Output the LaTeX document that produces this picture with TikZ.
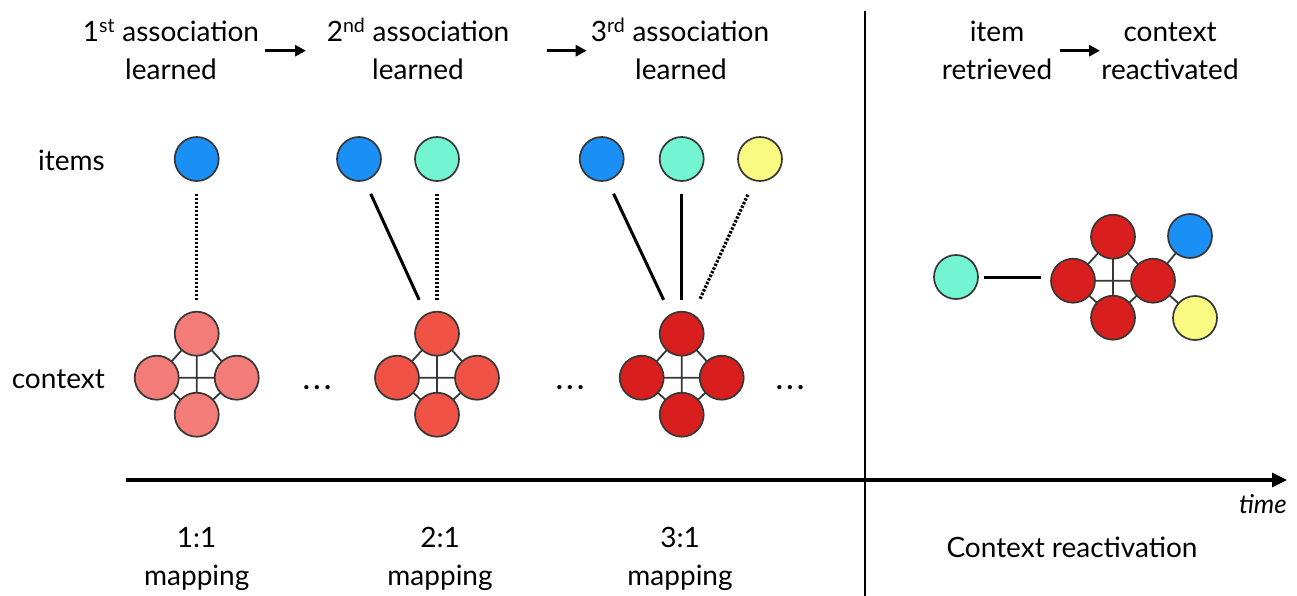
\documentclass[tikz,border=0pt]{standalone}
\usepackage{fontspec}
\setmainfont{Lato}
\usetikzlibrary{arrows.meta}
\pgfdeclarelayer{bg}
\pgfsetlayers{bg,main}
\definecolor{cblue}{RGB}{26,143,245}
\definecolor{cteal}{RGB}{116,245,210}
\definecolor{cyellow}{RGB}{250,250,130}
\definecolor{cred1}{RGB}{244,124,120}
\definecolor{cred2}{RGB}{240,83,69}
\definecolor{cred3}{RGB}{217,30,30}
\definecolor{cborder}{RGB}{55,55,55}
\newcommand\ctxcl[4]{%
  \node[dot,fill=#4] (#1l) at (#2-40,#3) {};
  \node[dot,fill=#4] (#1r) at (#2+40,#3) {};
  \node[dot,fill=#4] (#1t) at (#2,#3-44) {};
  \node[dot,fill=#4] (#1b) at (#2,#3+37) {};
  \begin{pgfonlayer}{bg}
  \draw[cl] (#1t.center) -- (#1b.center) (#1l.center) -- (#1r.center)
    (#1t.center) -- (#1l.center) -- (#1b.center) -- (#1r.center) -- (#1t.center);
  \end{pgfonlayer}}
\newcommand\spdots{.\hspace{4pt}.\hspace{4pt}.}
\begin{document}
\begin{tikzpicture}[x=1pt,y=-1pt,
  dot/.style={circle,draw=cborder,line width=1.7pt,minimum size=44pt,inner sep=0pt},
  lab/.style={font=\fontsize{28}{34}\selectfont,inner sep=0pt},
  ell/.style={font=\fontsize{28}{34}\selectfont\bfseries,inner sep=0pt,anchor=base},
  link/.style={line width=3pt},
  dotlink/.style={line width=3.2pt,dash pattern=on 2.4pt off 1.6pt},
  arr/.style={line width=2.8pt,-{Triangle[length=11pt,width=11pt]}},
  axis/.style={line width=3.2pt,-{Triangle[length=15pt,width=14pt]}},
  sep/.style={line width=2.6pt},
  cl/.style={line width=1.8pt,draw=cborder}]
\useasboundingbox (0,0) rectangle (1297,596);

% headings
\node[lab,anchor=base] (h1a) at (171,42) {1\textsuperscript{st} association};
\node[lab,anchor=base] (h1b) at (171,80) {learned};
\node[lab,anchor=base] (h2a) at (418,42) {2\textsuperscript{nd} association};
\node[lab,anchor=base] (h2b) at (418,80) {learned};
\node[lab,anchor=base] (h3a) at (680,42) {3\textsuperscript{rd} association};
\node[lab,anchor=base] (h3b) at (681,80) {learned};
\node[lab,anchor=base] (h4a) at (997,42) {item};
\node[lab,anchor=base] (h4b) at (997,80) {retrieved};
\node[lab,anchor=base] (h5a) at (1170,42) {context};
\node[lab,anchor=base] (h5b) at (1170,80) {reactivated};
\coordinate (a1s) at (265,50.7); \coordinate (a1e) at (306,50.7);
\coordinate (a2s) at (546.7,50.7); \coordinate (a2e) at (586.7,50.7);
\coordinate (a3s) at (1060,50.7); \coordinate (a3e) at (1100,50.7);
\draw[arr] (a1s) -- (a1e);
\draw[arr] (a2s) -- (a2e);
\draw[arr] (a3s) -- (a3e);

% row labels
\node[lab,anchor=base east] (litems) at (105,171) {items};
\node[lab,anchor=base east] (lctx) at (105,388) {context};

% group 1
\node[dot,fill=cblue] (i1a) at (196.7,159) {};
\ctxcl{c1}{196.7}{377.7}{cred1}
\draw[dotlink,shorten <=12pt,shorten >=11pt] (i1a.south) -- (c1t.north);

% group 2
\node[dot,fill=cblue] (i2a) at (359,159) {};
\node[dot,fill=cteal] (i2b) at (437,159) {};
\ctxcl{c2}{437}{377.7}{cred2}
\draw[link,shorten <=14pt,shorten >=15.5pt] (i2a.-75) -- (c2t.120);
\draw[dotlink,shorten <=12pt,shorten >=11pt] (i2b.south) -- (c2t.north);

% group 3
\node[dot,fill=cblue] (i3a) at (601.7,159) {};
\node[dot,fill=cteal] (i3b) at (681.7,159) {};
\node[dot,fill=cyellow] (i3c) at (760,159) {};
\ctxcl{c3}{681.7}{377.7}{cred3}
\draw[link,shorten <=14pt,shorten >=15.5pt] (i3a.-75) -- (c3t.120);
\draw[link,shorten <=12pt,shorten >=11pt] (i3b.south) -- (c3t.north);
\draw[dotlink,shorten <=15pt,shorten >=15.5pt] (i3c.-105) -- (c3t.60);

% ellipses
\node[ell] (e1) at (317,389) {\spdots};
\node[ell] (e2) at (570,389) {\spdots};
\node[ell] (e3) at (790,389) {\spdots};

% right panel
\node[dot,fill=cteal] (rteal) at (956,277) {};
\ctxcl{rc}{1113}{280.7}{cred3}
\node[dot,fill=cblue] (rblue) at (1190,236) {};
\node[dot,fill=cyellow] (ryel) at (1195,318) {};
\begin{pgfonlayer}{bg}
\draw[cl] (rcr.center) -- (rblue.center);
\draw[cl] (rcr.center) -- (ryel.center);
\end{pgfonlayer}
\draw[link,shorten <=5pt,shorten >=9pt] (rteal.east) -- (rteal.east -| rcl.west);

% separator and axis
\coordinate (st) at (865,11); \coordinate (sb) at (865,596);
\draw[sep] (st) -- (sb);
\coordinate (ax0) at (126,480); \coordinate (ax1) at (1287,480);
\draw[axis] (ax0) -- (ax1);
\node[lab,anchor=base east,font=\fontsize{26}{30}\selectfont\itshape] (time) at (1287,513) {time};

% bottom labels
\node[lab,anchor=base] (m1a) at (196.7,547) {1:1};
\node[lab,anchor=base] (m1b) at (196.7,585) {mapping};
\node[lab,anchor=base] (m2a) at (440,547) {2:1};
\node[lab,anchor=base] (m2b) at (440,585) {mapping};
\node[lab,anchor=base] (m3a) at (680,547) {3:1};
\node[lab,anchor=base] (m3b) at (680,585) {mapping};
\node[lab,anchor=base] (cr) at (1072,557) {Context reactivation};
\end{tikzpicture}
\end{document}
